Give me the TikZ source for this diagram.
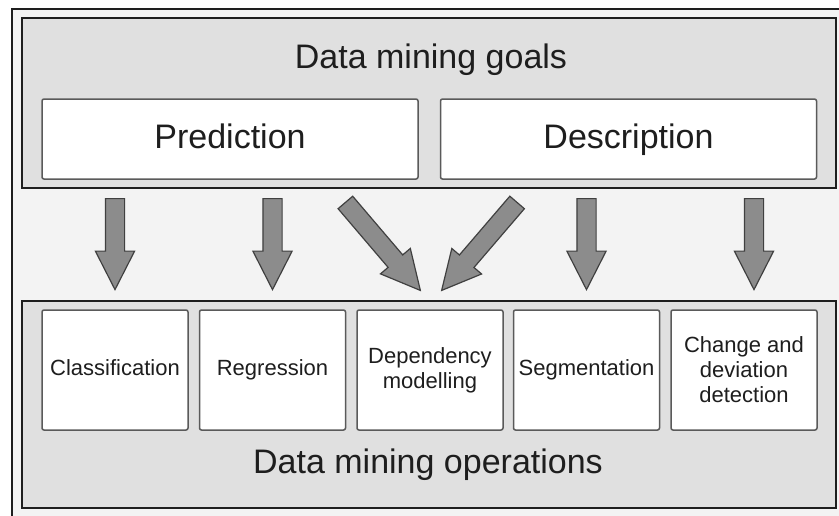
\documentclass[tikz,border=0pt]{standalone}
\usepackage{fontspec}
\setmainfont{Liberation Sans}
\usetikzlibrary{shapes.arrows,calc,positioning}

\definecolor{backgray}{HTML}{F3F3F3}
\definecolor{panelgray}{HTML}{E0E0E0}
\definecolor{arrowgray}{HTML}{8C8C8C}
\definecolor{edgegray}{HTML}{5A5A5A}
\definecolor{inkgray}{HTML}{1E1E1E}

\tikzset{
    panel/.style={draw=inkgray, line width=2.4pt, fill=panelgray, inner sep=0pt},
    goalbox/.style={draw=edgegray, line width=1.5pt, fill=white, rounded corners=2pt,
        minimum width=376pt, minimum height=80pt, inner sep=0pt,
        text height=25pt, text depth=7pt,
        font=\fontsize{34}{40}\selectfont, text=inkgray},
    opbox/.style={draw=edgegray, line width=1.5pt, fill=white, rounded corners=2pt,
        minimum width=146pt, minimum height=120pt, inner sep=0pt, align=center,
        font=\fontsize{22}{25}\selectfont, text=inkgray},
    oneline/.style={text height=16pt, text depth=5pt},
    bigtext/.style={font=\fontsize{34}{40}\selectfont, text=inkgray, inner sep=0pt, anchor=base},
    fatarrow/.style={single arrow, draw=inkgray!85, line width=1.2pt, fill=arrowgray,
        inner xsep=0pt, inner ysep=9pt, single arrow head extend=10pt,
        single arrow tip angle=54, single arrow head indent=0pt, anchor=tail}
}

% block arrow between two named points
\newcommand{\blockarrow}[2]{%
    \path let \p1=($(#2)-(#1)$), \n1={atan2(\y1,\x1)}, \n2={veclen(\x1,\y1)} in
        node[fatarrow, minimum height=\n2, rotate=\n1] at (#1) {};%
}

\begin{document}
\begin{tikzpicture}[x=1pt, y=-1pt]
        \clip (0,0) rectangle (839,515);
        \fill[white] (0,0) rectangle (839,515);

        % Outer frame
        \draw[draw=inkgray, line width=2pt, fill=backgray] (12,9) rectangle (860,540);

        % Goals panel
        \node[panel, minimum width=814pt, minimum height=170pt] (goals) at (429,103) {};
        \node[bigtext] (goalstitle) at (431,68) {Data mining goals};
        \node[goalbox] (pred) at (230,139) {Prediction};
        \node[goalbox] (desc) at (628.5,139) {Description};

        % Operations panel
        \node[panel, minimum width=814pt, minimum height=207pt] (ops) at (429,404.5) {};
        \node[opbox, oneline] (class) at (115,370) {Classification};
        \node[opbox, oneline] (regr) at (272.5,370) {Regression};
        \node[opbox] (dep) at (430,370) {Dependency\\modelling};
        \node[opbox, oneline] (seg) at (586.5,370) {Segmentation};
        \node[opbox] (chg) at (744,370) {Change and\\deviation\\detection};
        \node[bigtext] (opstitle) at (428,473) {Data mining operations};

        % Arrow ends
        \coordinate (a1s) at (115,198);   \coordinate (a1e) at (115,289);
        \coordinate (a2s) at (272.5,198); \coordinate (a2e) at (272.5,289);
        \coordinate (a3s) at (345,202);   \coordinate (a3e) at (420,290);
        \coordinate (a4s) at (517.5,202); \coordinate (a4e) at (442,290);
        \coordinate (a5s) at (586.5,198); \coordinate (a5e) at (586.5,289);
        \coordinate (a6s) at (754,198);   \coordinate (a6e) at (754,289);

        % Draw arrows
        \foreach \i in {1,...,6} {
            \blockarrow{a\i s}{a\i e}
        }
    \end{tikzpicture}
\end{document}
